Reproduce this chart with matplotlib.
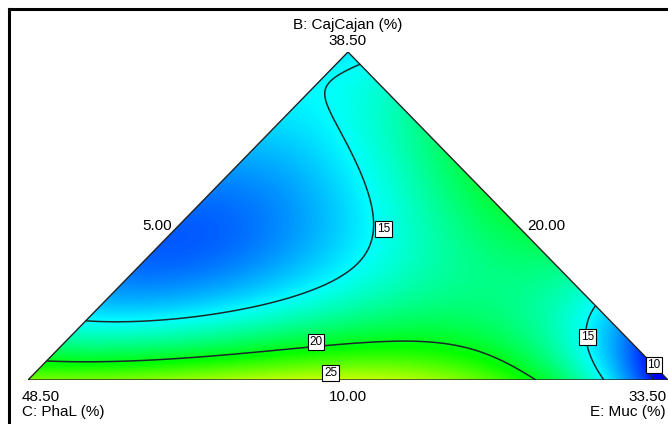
import numpy as np
import matplotlib
matplotlib.use("Agg")
import matplotlib.pyplot as plt
from matplotlib.colors import LinearSegmentedColormap
from matplotlib.patches import Polygon

plt.rcParams['font.family'] = ['Liberation Sans', 'DejaVu Sans']

# axis labels (actual component %): vertex max, opposite edge min
comp_names = ['B: CajCajan (%)', 'C: PhaL (%)', 'E: Muc (%)']
vertex_max = ['38.50', '48.50', '33.50']
edge_min = ['10.00', '20.00', '5.00']   # B min (base), C min (right edge), E min (left edge)

# response readings, pseudo-components b (CajCajan) and e (Muc), c = 1 - b - e
iso15_b = [0.951, 0.905, 0.832, 0.771, 0.677, 0.579, 0.460, 0.357, 0.274, 0.235, 0.198, 0.174, 0.168]
iso15_e = [0.052, 0.015, 0.023, 0.066, 0.151, 0.235, 0.326, 0.367, 0.352, 0.263, 0.177, 0.085, 0.006]
iso15r_b = [0.229, 0.174, 0.070, 0.003]
iso15r_e = [0.763, 0.784, 0.847, 0.900]
iso20_b = [0.052, 0.055, 0.076, 0.098, 0.104, 0.091, 0.052, 0.003]
iso20_e = [0.013, 0.145, 0.290, 0.414, 0.515, 0.623, 0.721, 0.795]
spot_b = [1.0, 0.0, 0.0, 0.0, 0.0, 0.0, 0.0, 0.0, 0.02, 0.5, 0.75, 0.3, 0.4, 0.5,
          0.75, 0.25, 0.4, 0.5, 0.6, 0.9, 0.15, 0.1]
spot_e = [0.0, 0.0, 1.0, 0.25, 0.48, 0.44, 0.52, 0.65, 0.965, 0.0, 0.0, 0.0, 0.1, 0.5,
          0.25, 0.5, 0.6, 0.25, 0.1, 0.1, 0.3, 0.8]
spot_z = [14.5, 23.5, 8.0, 24.3, 25.4, 25.0, 25.0, 23.0, 10.0, 11.8, 13.2, 13.0, 11.5, 19.3,
          17.5, 19.5, 18.5, 14.2, 12.9, 16.0, 17.5, 16.0]

levels = [10, 15, 20, 25]
# label spots (x, y in triangle frame)
label_pos = {15: [(0.556, 0.460), (0.874, 0.131)], 20: [(0.450, 0.116)],
             25: [(0.473, 0.021)], 10: [(0.978, 0.046)]}

# collect readings
B = np.array(iso15_b + iso15r_b + iso20_b + spot_b)
E = np.array(iso15_e + iso15r_e + iso20_e + spot_e)
Z = np.array([15.0] * (len(iso15_b) + len(iso15r_b)) + [20.0] * len(iso20_b) + spot_z)

# fit a polynomial surface to the readings
deg = 5
terms = [(i, j) for i in range(deg + 1) for j in range(deg + 1 - i)]
def design(b, e):
    return np.column_stack([b ** i * e ** j for i, j in terms])
A = design(B, E)
lam = 1e-4
coef = np.linalg.solve(A.T @ A + lam * np.eye(A.shape[1]), A.T @ Z)

# grid in triangle frame: C left (0,0), E right (1,0), B top (0.5,1)
n = 500
gx, gy = np.meshgrid(np.linspace(0, 1, n), np.linspace(0, 1, n))
gb = gy
ge = gx - gy / 2
gz = (design(gb.ravel(), ge.ravel()) @ coef).reshape(n, n)

cmap = LinearSegmentedColormap.from_list('dx', ['#0000ff', '#00ffff', '#00ff00', '#ffff00', '#ff0000'])

fig = plt.figure(figsize=(6.68, 4.24), dpi=100)
ax = fig.add_axes([28 / 668, 44 / 424, 640 / 668, 328 / 424])
ax.set_xlim(0, 1)
ax.set_ylim(0, 1)
ax.axis('off')

tri = Polygon([[0, 0], [1, 0], [0.5, 1]], closed=True, facecolor='none', edgecolor='#222222', lw=1.0, zorder=5)
ax.add_patch(tri)

im = ax.imshow(gz, extent=[0, 1, 0, 1], origin='lower', cmap=cmap, vmin=9.4, vmax=31.6,
               aspect='auto', interpolation='bilinear')
im.set_clip_path(tri)

cs = ax.contour(gx, gy, gz, levels=levels, colors='#1a2a2a', linewidths=1.1)
cs.set_clip_path(tri)

for lev, spots in label_pos.items():
    for (lx, ly) in spots:
        ax.text(lx, ly, str(lev), fontsize=8.5, ha='center', va='center', zorder=6,
                bbox=dict(boxstyle='square,pad=0.15', fc='white', ec='black', lw=0.8))

fs = 11
ax.text(0.5, 1.034, vertex_max[0], ha='center', va='center', fontsize=fs, clip_on=False)
ax.text(0.5, 1.082, comp_names[0], ha='center', va='center', fontsize=fs, clip_on=False)
ax.text(-0.01, -0.052, vertex_max[1], ha='left', va='center', fontsize=fs, clip_on=False)
ax.text(-0.01, -0.097, comp_names[1], ha='left', va='center', fontsize=fs, clip_on=False)
ax.text(0.997, -0.052, vertex_max[2], ha='right', va='center', fontsize=fs, clip_on=False)
ax.text(0.997, -0.097, comp_names[2], ha='right', va='center', fontsize=fs, clip_on=False)
ax.text(0.5, -0.052, edge_min[0], ha='center', va='center', fontsize=fs, clip_on=False)
ax.text(0.225, 0.47, edge_min[2], ha='right', va='center', fontsize=fs, clip_on=False)
ax.text(0.780, 0.47, edge_min[1], ha='left', va='center', fontsize=fs, clip_on=False)

# frame lines (top and left)
fig.add_artist(plt.Line2D([8.5 / 668, 1.0], [1 - 9 / 424, 1 - 9 / 424], color='black', lw=2.2))
fig.add_artist(plt.Line2D([8.5 / 668, 8.5 / 668], [0.0, 1 - 9 / 424], color='black', lw=2.2))

fig.savefig('out.png', dpi=100)
